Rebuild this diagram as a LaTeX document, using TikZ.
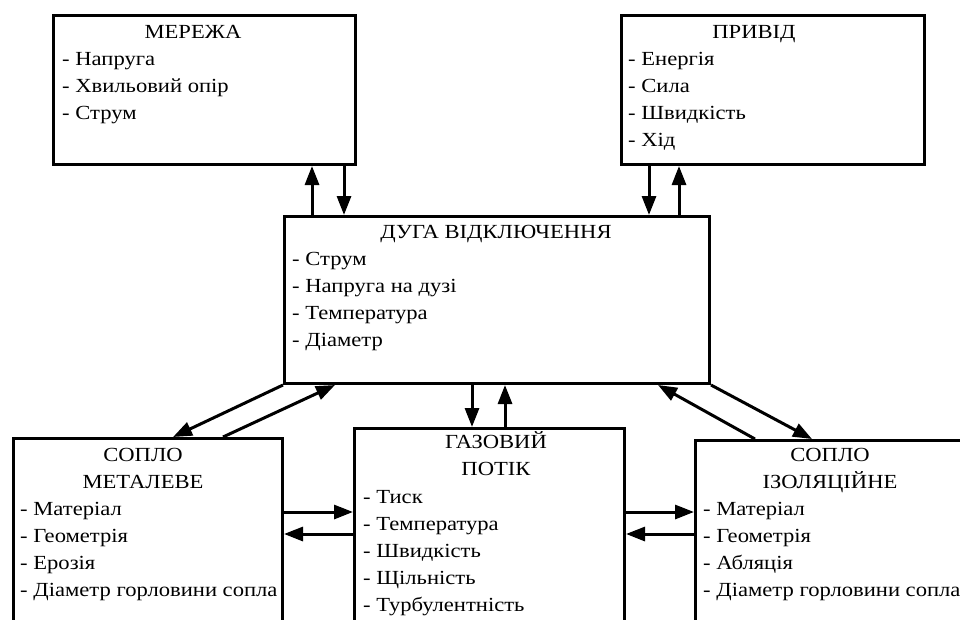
\documentclass[tikz,border=0pt]{standalone}
\usepackage{fontspec}
\setmainfont[FakeStretch=1.13]{Liberation Serif}
\usetikzlibrary{arrows.meta,calc}

\newcommand{\fs}{\fontsize{20}{27}\selectfont}
\tikzset{
  blk/.style={draw, line width=3pt, anchor=north west, inner sep=0pt},
  ttl/.style={anchor=north, inner sep=0pt, align=center, font=\fs},
  lst/.style={anchor=north west, inner sep=0pt, align=left, font=\fs},
  arr/.style={line width=3pt, -{Triangle[length=19pt,width=14pt]}},
}

\begin{document}
\begin{tikzpicture}[x=1pt,y=-1pt]
  \useasboundingbox (0,0) rectangle (960,619);
  \clip (0,0) rectangle (960,619);

  % blocks
  \node[blk, minimum width=302pt, minimum height=149pt] (merezha) at (52,14) {};
  \node[blk, minimum width=303pt, minimum height=149pt] (pryvid) at (620,14) {};
  \node[blk, minimum width=425pt, minimum height=167pt] (duga) at (283,215) {};
  \node[blk, minimum width=269pt, minimum height=300pt] (metal) at (12,437) {};
  \node[blk, minimum width=270pt, minimum height=300pt] (gaz) at (353,427) {};
  \node[blk, minimum width=280pt, minimum height=300pt] (izol) at (694,439) {};

  % titles
  \node[ttl] (merezha-t) at (193,19.1) {\strut МЕРЕЖА};
  \node[ttl] (pryvid-t) at (754,19.1) {\strut ПРИВІД};
  \node[ttl] (duga-t) at (496,219.1) {\strut ДУГА ВІДКЛЮЧЕННЯ};
  \node[ttl] (metal-t) at (143,442.1) {\strut СОПЛО\\МЕТАЛЕВЕ};
  \node[ttl] (gaz-t) at (496,429.1) {\strut ГАЗОВИЙ\\ПОТІК};
  \node[ttl] (izol-t) at (830,442.1) {\strut СОПЛО\\ІЗОЛЯЦІЙНЕ};

  % parameters
  \node[lst] (merezha-l) at (62,46.1) {\strut - Напруга\\- Хвильовий опір\\- Струм};
  \node[lst] (pryvid-l) at (628,46.1) {\strut - Енергія\\- Сила\\- Швидкість\\- Хід};
  \node[lst] (duga-l) at (292,246.1) {\strut - Струм\\- Напруга на дузі\\- Температура\\- Діаметр};
  \node[lst] (metal-l) at (20,496.1) {\strut - Матеріал\\- Геометрія\\- Ерозія\\- Діаметр горловини сопла};
  \node[lst] (gaz-l) at (363,484.1) {\strut - Тиск\\- Температура\\- Швидкість\\- Щільність\\- Турбулентність};
  \node[lst] (izol-l) at (703,496.1) {\strut - Матеріал\\- Геометрія\\- Абляція\\- Діаметр горловини сопла};

  % links
  \draw[arr] ($(duga.north west)+(29,0)$) -- ($(merezha.south west)+(260,0)$);
  \draw[arr] ($(merezha.south west)+(292,0)$) -- ($(duga.north west)+(61,0)$);
  \draw[arr] ($(pryvid.south west)+(29,0)$) -- ($(duga.north west)+(366,0)$);
  \draw[arr] ($(duga.north west)+(396,0)$) -- ($(pryvid.south west)+(59,0)$);
  \draw[arr] ($(duga.south west)+(189,0)$) -- ($(gaz.north west)+(119,0)$);
  \draw[arr] ($(gaz.north west)+(152,0)$) -- ($(duga.south west)+(222,0)$);
  \draw[arr] (duga.south west) -- ($(metal.north west)+(161,0)$);
  \draw[arr] ($(metal.north west)+(211,0)$) -- ($(duga.south west)+(52,0)$);
  \draw[arr] (duga.south east) -- ($(izol.north west)+(118,0)$);
  \draw[arr] ($(izol.north west)+(61,0)$) -- ($(duga.south east)+(-53,0)$);
  \draw[arr] ($(metal.north east)+(0,75)$) -- ($(gaz.north west)+(0,85)$);
  \draw[arr] ($(gaz.north west)+(0,107)$) -- ($(metal.north east)+(0,97)$);
  \draw[arr] ($(gaz.north east)+(0,85)$) -- ($(izol.north west)+(0,73)$);
  \draw[arr] ($(izol.north west)+(0,95)$) -- ($(gaz.north east)+(0,107)$);
\end{tikzpicture}
\end{document}
